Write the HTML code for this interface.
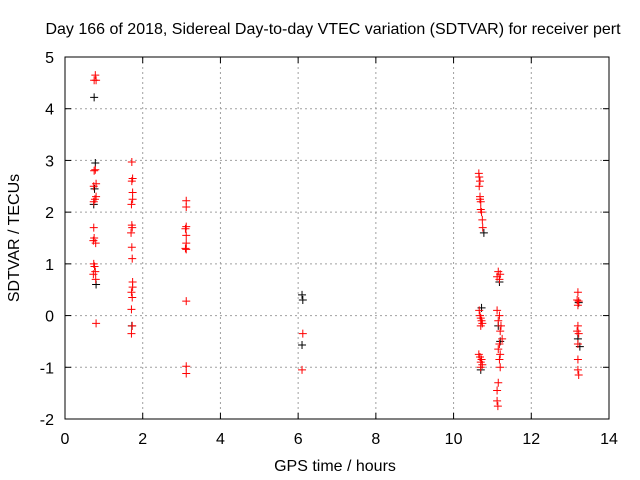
<!DOCTYPE html>
<html><head><meta charset="utf-8"><style>
body{margin:0;background:#fff;}
svg{display:block;font-family:"Liberation Sans",sans-serif;}
</style></head><body>
<svg id="chart" width="640" height="480" viewBox="0 0 640 480">
<text x="333" y="34" font-size="16" text-anchor="middle" fill="#000">Day 166 of 2018, Sidereal Day-to-day VTEC variation (SDTVAR) for receiver pert</text>
<g id="grid"></g>
<g id="axes"></g>
<g id="marks"></g>
<text x="335" y="471" font-size="16" text-anchor="middle">GPS time / hours</text>
<text transform="translate(19,238) rotate(-90)" font-size="16" text-anchor="middle">SDTVAR / TECUs</text>
</svg>
<script>
const xTicks=[0,2,4,6,8,10,12,14];
const yTicks=[-2,-1,0,1,2,3,4,5];
const blackT=[0.75,0.78,0.76,0.74,0.8,1.72,6.1,6.12,6.1,10.72,10.7,10.78,11.18,11.15,11.2,13.22,13.2,13.25];
const blackV=[4.22,2.95,2.45,2.15,0.6,-0.2,0.4,0.3,-0.57,0.15,-1.05,1.6,0.65,-0.2,-0.5,0.25,-0.45,-0.6];
const redT=[0.78,0.75,0.8,0.75,0.78,0.8,0.74,0.8,0.77,0.74,0.74,0.75,0.73,0.79,0.74,0.76,0.78,0.73,0.79,0.8,
1.72,1.74,1.72,1.74,1.74,1.71,1.72,1.73,1.7,1.72,1.73,1.74,1.74,1.71,1.73,1.71,1.73,1.71,
3.12,3.12,3.12,3.1,3.12,3.12,3.1,3.12,3.12,3.12,3.12,
6.12,6.1,
10.65,10.66,10.68,10.66,10.68,10.68,10.7,10.7,10.72,10.74,10.75,10.66,10.68,10.7,10.72,10.74,10.7,10.65,10.68,10.72,10.7,10.74,10.7,
11.15,11.2,11.12,11.18,11.12,11.18,11.15,11.22,11.2,11.25,11.18,11.15,11.2,11.18,11.2,11.15,11.12,11.12,11.14,
13.2,13.18,13.22,13.2,13.2,13.18,13.22,13.2,13.2,13.2,13.22];
const redV=[4.65,4.55,4.55,2.8,2.82,2.55,2.5,2.3,2.25,2.2,1.7,1.5,1.45,1.4,1.0,0.95,0.85,0.8,0.7,-0.15,
2.97,2.65,2.6,2.38,2.25,2.15,1.75,1.7,1.6,1.32,1.1,0.65,0.55,0.45,0.35,0.12,-0.2,-0.35,
2.22,2.1,1.72,1.68,1.55,1.4,1.3,1.28,0.28,-0.98,-1.12,
-0.35,-1.05,
2.75,2.68,2.6,2.5,2.3,2.25,2.2,2.05,2.0,1.85,1.7,0.1,0.0,-0.05,-0.1,-0.15,-0.2,-0.75,-0.8,-0.85,-0.9,-0.95,-1.0,
0.85,0.8,0.75,0.7,0.1,0.0,-0.1,-0.2,-0.3,-0.45,-0.55,-0.65,-0.75,-0.85,-1.0,-1.3,-1.45,-1.65,-1.75,
0.45,0.3,0.28,0.2,-0.2,-0.3,-0.35,-0.55,-0.85,-1.05,-1.15];
const L=65,R=609,T=57,B=419;
const xs=v=>L+(v-0)/(14-0)*(R-L);
const ys=v=>B-(v+2)/7*(B-T);
const NS='http://www.w3.org/2000/svg';
function mk(tag,parent,attrs){const e=document.createElementNS(NS,tag);for(const k in attrs)e.setAttribute(k,attrs[k]);parent.appendChild(e);return e;}
const grid=document.getElementById('grid'),axes=document.getElementById('axes'),marks=document.getElementById('marks');
xTicks.forEach(t=>{const x=xs(t);
 if(t>0&&t<14){const g=mk('line',grid,{x1:x,x2:x,y1:T,y2:B,stroke:'#a0a0a0','stroke-dasharray':'2,3'});
 
 }
 mk('line',axes,{x1:x,x2:x,y1:B,y2:B-6,stroke:'#000'});mk('line',axes,{x1:x,x2:x,y1:T,y2:T+6,stroke:'#000'});
 const tx=mk('text',axes,{x:x,y:B+25,'font-size':'16','text-anchor':'middle'});tx.textContent=t;
 
 
});
yTicks.forEach(t=>{const y=ys(t);
 if(t>-2&&t<5){const g=mk('line',grid,{x1:L,x2:R,y1:y,y2:y,stroke:'#a0a0a0','stroke-dasharray':'2,3'});
 
 }
 mk('line',axes,{x1:L,x2:L+6,y1:y,y2:y,stroke:'#000'});mk('line',axes,{x1:R,x2:R-6,y1:y,y2:y,stroke:'#000'});
 const tx=mk('text',axes,{x:L-11,y:y+6,'font-size':'16','text-anchor':'end'});tx.textContent=t;
 
 
});
mk('rect',axes,{x:L,y:T,width:R-L,height:B-T,fill:'none',stroke:'#000'});
function plus(t,v,c,name){const x=xs(t),y=ys(v);
 const p=mk('path',marks,{d:`M${x-4},${y}H${x+4}M${x},${y-4}V${y+4}`,stroke:c,'stroke-width':'1'});
 
 }
blackT.forEach((t,i)=>plus(t,blackV[i],'#000','black-point'));
redT.forEach((t,i)=>plus(t,redV[i],'#ff0000','red-point'));
</script>
</body></html>
